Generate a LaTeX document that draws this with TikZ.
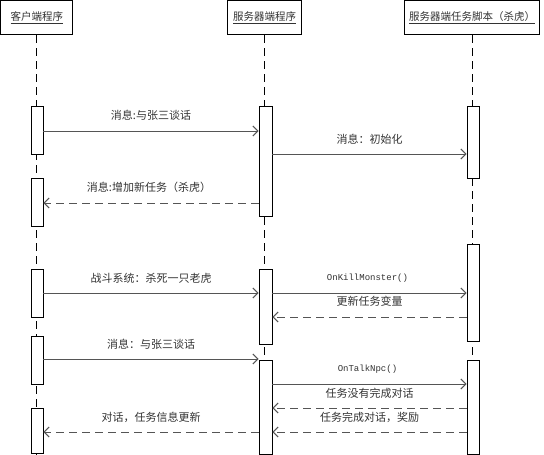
\documentclass[tikz,border=0pt]{standalone}
\usepackage{fontspec}
\setmainfont{Liberation Serif}
\newfontfamily\cjk{Noto Sans CJK SC}
\newfontfamily\monof{Liberation Mono}
\usetikzlibrary{arrows.meta}
\definecolor{msgc}{HTML}{555555}
\definecolor{txtc}{HTML}{333333}
\tikzset{
  head/.style={draw=black, line width=1.2pt, fill=white, minimum height=34pt, inner sep=0pt,
    font=\cjk\fontsize{10.5}{12}\selectfont, text=txtc},
  bar/.style={draw=black, line width=0.9pt, fill=white, minimum width=12pt, inner sep=0pt},
  life/.style={draw=black, line width=0.9pt, dash pattern=on 8pt off 5pt},
  msg/.style={draw=msgc, line width=1pt, -{Straight Barb[length=5pt,width=10pt]}},
  ret/.style={msg, dash pattern=on 8pt off 5pt},
  lbl/.style={font=\cjk\fontsize{11}{13}\selectfont, text=txtc, inner sep=0pt},
  code/.style={font=\monof\fontsize{9}{11}\selectfont, text=txtc, inner sep=0pt}
}
\begin{document}
\begin{tikzpicture}[x=1pt,y=1pt]
\useasboundingbox (0,0) rectangle (544,-455);
% headers
\node[head, minimum width=72pt] (h1) at (36.8,-17.5) {\underline{客户端程序}};
\node[head, minimum width=74pt] (h2) at (264.5,-17.5) {\underline{服务器端程序}};
\node[head, minimum width=135pt] (h3) at (472,-17.5) {\underline{服务器端任务脚本（杀虎）}};
\coordinate (bot) at (0,-455);
% lifelines
\draw[life] (h1.south) -- (h1.south |- bot);
\draw[life] (h2.south) -- (h2.south |- bot);
\draw[life] (h3.south) -- (h3.south |- bot);
% activation bars
\node[bar, minimum height=48pt] (c1) at (37,-130) {};
\node[bar, minimum height=48pt] (c2) at (37,-202) {};
\node[bar, minimum height=48pt] (c3) at (37,-293) {};
\node[bar, minimum height=48pt] (c4) at (37,-360) {};
\node[bar, minimum height=45pt] (c5) at (37,-430.5) {};
\node[bar, minimum width=13pt, minimum height=110pt] (s1) at (265.5,-161) {};
\node[bar, minimum width=13pt, minimum height=75pt] (s2) at (265.5,-306.5) {};
\node[bar, minimum width=13pt, minimum height=94pt] (s3) at (265.5,-407) {};
\node[bar, minimum height=72pt] (t1) at (473,-142) {};
\node[bar, minimum height=97pt] (t2) at (473,-292.5) {};
\node[bar, minimum height=94pt] (t3) at (473,-407) {};
% message levels
\coordinate (y1) at (0,-131);
\coordinate (y2) at (0,-154);
\coordinate (y3) at (0,-203);
\coordinate (y4) at (0,-293);
\coordinate (y6) at (0,-317);
\coordinate (y7) at (0,-359);
\coordinate (y8) at (0,-384);
\coordinate (y9) at (0,-408);
\coordinate (y10) at (0,-432);
% messages
\draw[msg] (c1.east |- y1) -- node[lbl, yshift=15.5pt] {消息:与张三谈话} (s1.west |- y1);
\draw[msg] (s1.east |- y2) -- node[lbl, yshift=14.5pt] {消息：初始化} (t1.west |- y2);
\draw[ret] (s1.west |- y3) -- node[lbl, yshift=15.5pt, xshift=-2pt] {消息:增加新任务（杀虎）} (c2.east |- y3);
\draw[msg] (c3.east |- y4) -- node[lbl, yshift=15pt] {战斗系统：杀死一只老虎} (s2.west |- y4);
\draw[msg] (s2.east |- y4) -- node[code, yshift=15pt, xshift=-2pt] {OnKillMonster()} (t2.west |- y4);
\draw[ret] (t2.west |- y6) -- node[lbl, yshift=15.5pt] {更新任务变量} (s2.east |- y6);
\draw[msg] (c4.east |- y7) -- node[lbl, yshift=14.5pt] {消息：与张三谈话} (s3.west |- y7);
\draw[msg] (s3.east |- y8) -- node[code, yshift=15pt, xshift=-2pt] {OnTalkNpc()} (t3.west |- y8);
\draw[ret] (t3.west |- y9) -- node[lbl, yshift=15pt] {任务没有完成对话} (s3.east |- y9);
\draw[ret] (t3.west |- y10) -- node[lbl, yshift=15pt] {任务完成对话，奖励} (s3.east |- y10);
\draw[ret] (s3.west |- y10) -- node[lbl, yshift=15pt] {对话，任务信息更新} (c5.east |- y10);
\end{tikzpicture}
\end{document}
